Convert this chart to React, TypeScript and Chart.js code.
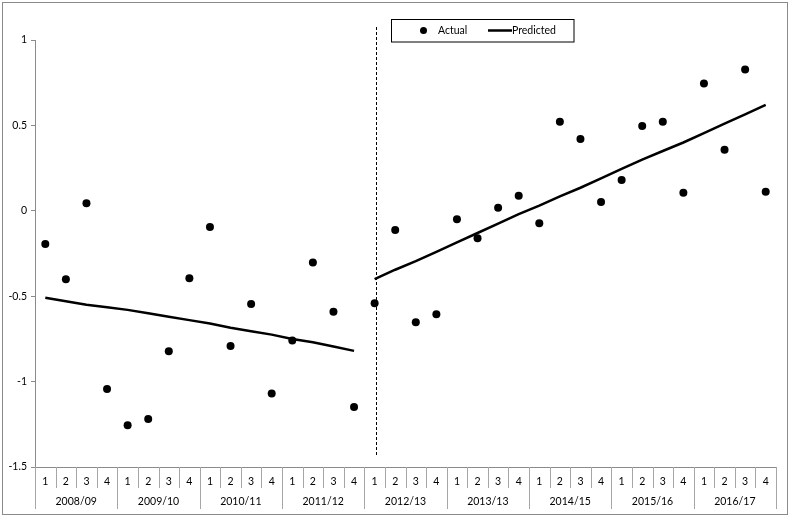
import React, { useEffect, useRef } from "react";
import { Chart, registerables } from "chart.js";
Chart.register(...registerables);

const years = ["2008/09", "2009/10", "2010/11", "2011/12", "2012/13", "2013/13", "2014/15", "2015/16", "2016/17"];
const quarters = ["1", "2", "3", "4"];
const yTicks = [1, 0.5, 0, -0.5, -1, -1.5];
const breakIndex = 16;

const actual = [
  -0.195, -0.401, 0.044, -1.043, -1.256, -1.219, -0.823, -0.395, -0.095, -0.792, -0.546, -1.069,
  -0.76, -0.302, -0.591, -1.149, -0.542, -0.112, -0.653, -0.606, -0.05, -0.161, 0.018, 0.088,
  -0.073, 0.522, 0.42, 0.051, 0.18, 0.496, 0.522, 0.106, 0.746, 0.358, 0.828, 0.112,
];
const predictedBefore = [
  -0.509, -0.53, -0.55, -0.565, -0.58, -0.6, -0.62, -0.64, -0.66, -0.685, -0.705, -0.725, -0.75, -0.77, -0.795, -0.82,
];
const predictedAfter = [
  -0.4, -0.345, -0.295, -0.24, -0.185, -0.13, -0.075, -0.02, 0.03, 0.085, 0.135, 0.19, 0.245, 0.3, 0.35, 0.4, 0.455,
  0.51, 0.565, 0.62,
];

const FONT = "Lato";
const GRAY = "#8a8a8a";

export default function App() {
  const ref = useRef<HTMLCanvasElement | null>(null);
  useEffect(() => {
    document.body.style.margin = "0";
    const canvas = ref.current;
    if (!canvas) return;
    const labels: string[] = [];
    years.forEach(() => quarters.forEach((q) => labels.push(q)));
    const n = labels.length;
    const before = labels.map((_, i) => (i < breakIndex ? predictedBefore[i] : null));
    const after = labels.map((_, i) => (i >= breakIndex ? predictedAfter[i - breakIndex] : null));

    const decor = {
      id: "decor",
      afterDraw(chart: any) {
        const ctx = chart.ctx;
        const xs = chart.scales.x;
        const area = chart.chartArea;
        const step = xs.getPixelForValue(1) - xs.getPixelForValue(0);
        ctx.save();
        // outer border
        ctx.strokeStyle = GRAY;
        ctx.lineWidth = 1;
        ctx.strokeRect(2.5, 2.5, 785, 512);
        // x separators
        ctx.strokeStyle = "#a6a6a6";
        for (let i = 0; i <= n; i++) {
          const x = Math.round(xs.getPixelForValue(0) - step / 2 + i * step) + 0.5;
          const len = i % 4 === 0 ? 42 : 21;
          ctx.beginPath();
          ctx.moveTo(x, area.bottom);
          ctx.lineTo(x, area.bottom + len);
          ctx.stroke();
        }
        // year labels
        ctx.fillStyle = "#000";
        ctx.font = `10.5px ${FONT}`;
        ctx.textAlign = "center";
        ctx.textBaseline = "middle";
        years.forEach((y, k) => {
          const cx = xs.getPixelForValue(k * 4) - step / 2 + 2 * step;
          ctx.fillText(y, cx, 502);
        });
        // dashed break line
        const bx = Math.round(xs.getPixelForValue(breakIndex) + 1) + 0.5;
        ctx.strokeStyle = "#000";
        ctx.setLineDash([3, 2]);
        ctx.beginPath();
        ctx.moveTo(bx, 27);
        ctx.lineTo(bx, 457);
        ctx.stroke();
        ctx.setLineDash([]);
        // legend
        ctx.fillStyle = "#fff";
        ctx.fillRect(391, 19.5, 183, 22.5);
        ctx.strokeStyle = "#000";
        ctx.strokeRect(391.5, 19.5, 182.5, 22.5);
        ctx.fillStyle = "#000";
        ctx.beginPath();
        ctx.arc(423.5, 30.5, 3.5, 0, Math.PI * 2);
        ctx.fill();
        ctx.textAlign = "left";
        ctx.fillText("Actual", 438, 31);
        ctx.lineWidth = 2.5;
        ctx.beginPath();
        ctx.moveTo(488, 30.5);
        ctx.lineTo(512, 30.5);
        ctx.stroke();
        ctx.fillText("Predicted", 512, 31);
        ctx.restore();
      },
    };

    const chart = new Chart(canvas, {
      type: "line",
      data: {
        labels,
        datasets: [
          {
            label: "Predicted",
            data: before,
            borderColor: "#000",
            borderWidth: 2.5,
            pointRadius: 0,
            spanGaps: false,
          },
          {
            label: "Predicted",
            data: after,
            borderColor: "#000",
            borderWidth: 2.5,
            pointRadius: 0,
            spanGaps: false,
          },
          {
            label: "Actual",
            data: actual,
            showLine: false,
            pointRadius: 4,
            pointBackgroundColor: "#000",
            pointBorderColor: "#000",
            pointBorderWidth: 0,
          },
        ],
      },
      options: {
        responsive: false,
        animation: false,
        layout: { padding: { top: 40, right: 14, left: 0, bottom: 0 } },
        plugins: { legend: { display: false }, tooltip: { enabled: false } },
        scales: {
          x: {
            type: "category",
            offset: true,
            grid: { display: false, drawTicks: false },
            border: { display: true, color: GRAY, width: 1 },
            ticks: {
              autoSkip: false,
              maxRotation: 0,
              minRotation: 0,
              padding: 8,
              color: "#000",
              font: { family: FONT, size: 10.5 },
            },
            afterFit: (s: any) => {
              s.height = 50;
            },
          },
          y: {
            min: -1.5,
            max: 1,
            afterBuildTicks: (s: any) => {
              s.ticks = yTicks.map((v) => ({ value: v }));
            },
            grid: { drawOnChartArea: false, drawTicks: true, tickLength: 4, color: GRAY },
            border: { display: true, color: GRAY, width: 1 },
            ticks: {
              padding: 4,
              color: "#000",
              font: { family: FONT, size: 10.5 },
              callback: (v: any) => String(v),
            },
            afterFit: (s: any) => {
              s.width = 35;
            },
          },
        },
      },
      plugins: [decor],
    });
    return () => chart.destroy();
  }, []);
  return (
    <div style={{ width: 790, height: 517 }}>
      <canvas ref={ref} width={790} height={517} style={{ display: "block", width: 790, height: 517 }} />
    </div>
  );
}
